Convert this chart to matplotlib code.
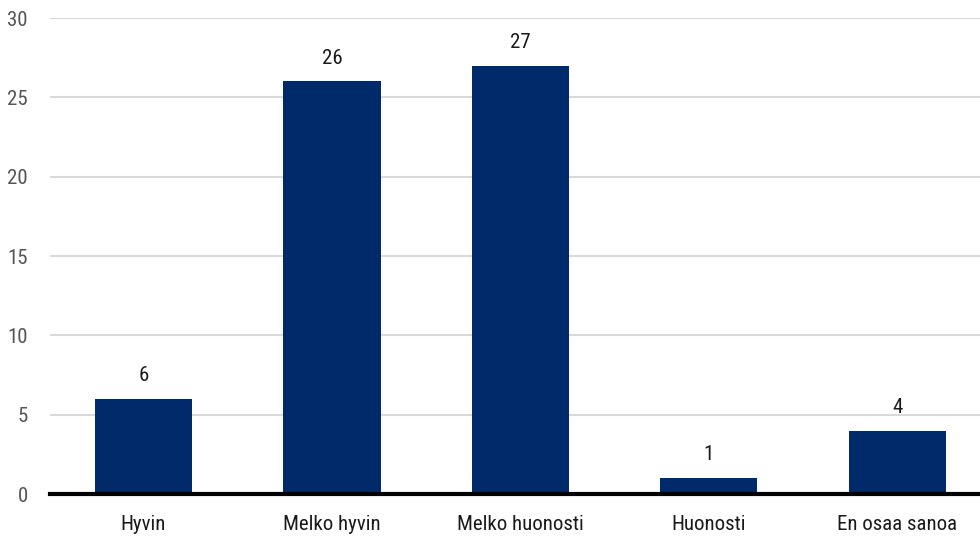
import matplotlib
matplotlib.use("Agg")
import matplotlib.pyplot as plt
from matplotlib import font_manager

categories = ["Hyvin", "Melko hyvin", "Melko huonosti", "Huonosti", "En osaa sanoa"]
values = [6, 26, 27, 1, 4]
yticks = [0, 5, 10, 15, 20, 25, 30]

available = {f.name for f in font_manager.fontManager.ttflist}
family = [f for f in ["Liberation Sans Narrow", "Roboto Condensed", "Open Sans Condensed"] if f in available] + ["DejaVu Sans"]
plt.rcParams["font.family"] = family

W, H = 980, 538
fig = plt.figure(figsize=(W / 100, H / 100), dpi=100)
ax = fig.add_axes([50 / W, 44 / H, 1 - 50 / W, (494 - 18) / H])

bar_color = "#012a6b"
x = list(range(len(categories)))
ax.bar(x, values, width=0.515, color=bar_color, zorder=3)

for xi, v in zip(x, values):
    ax.annotate(str(v), (xi, v), xytext=(0, 10), textcoords="offset points",
                ha="center", va="bottom", fontsize=15, color="#1a1a1a")

ax.set_xlim(-0.496, 4.438)
ax.set_ylim(0, 30)
ax.set_yticks(yticks)
ax.set_xticks(x)
ax.set_xticklabels(categories)
ax.tick_params(axis="x", length=0, pad=15, labelsize=15, labelcolor="#1a1a1a")
ax.tick_params(axis="y", length=0, pad=16, labelsize=15, labelcolor="#555555")

ax.grid(axis="y", color="#d9d9d9", linewidth=1.5, zorder=0)
for s in ["top", "right", "left"]:
    ax.spines[s].set_visible(False)
ax.spines["bottom"].set_color("black")
ax.spines["bottom"].set_linewidth(3)
ax.spines["bottom"].set_zorder(4)

fig.savefig("out.png", dpi=100)
